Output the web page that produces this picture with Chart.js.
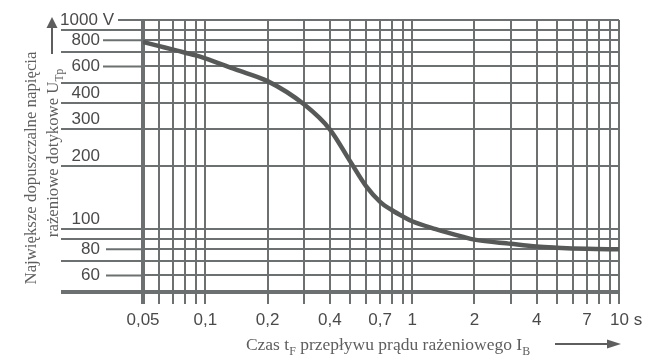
<!DOCTYPE html>
<html><head><meta charset="utf-8">
<script src="https://cdn.jsdelivr.net/npm/chart.js@4"></script>
<style>html,body{margin:0;padding:0;background:#fff}</style>
</head><body>
<canvas id="c" width="665" height="356"></canvas>
<script>
// ---- data ----
const times = [0.05, 0.06, 0.07, 0.08, 0.09, 0.1, 0.14, 0.2, 0.3, 0.4, 0.5, 0.6, 0.7, 0.8, 0.9, 1, 1.3, 1.75, 2, 3, 4, 5, 7, 10];
const voltages = [785, 750, 722, 697, 677, 655, 580, 510, 395, 300, 212, 160, 135, 123, 115, 109, 100, 92, 89, 85, 82.5, 81.5, 80.5, 80];
const xGridValues = [0.05, 0.06, 0.07, 0.08, 0.09, 0.1, 0.2, 0.3, 0.4, 0.5, 0.6, 0.7, 0.8, 0.9, 1, 2, 3, 4, 5, 6, 7, 8, 9, 10];
const xLabelValues = [0.05, 0.1, 0.2, 0.4, 0.7, 1, 2, 4, 7, 10];
const xLabelTexts = ['0,05', '0,1', '0,2', '0,4', '0,7', '1', '2', '4', '7', '10 s'];
const yGridValues = [50, 60, 70, 80, 90, 100, 200, 300, 400, 500, 600, 700, 800, 900, 1000];
const yLabelValues = [1000, 800, 600, 400, 300, 200, 100, 80, 60];
const yLabelTexts = ['1000 V', '800', '600', '400', '300', '200', '100', '80', '60'];
const yLabelsAbove = [400, 300, 200, 100];
const yTitleLine1 = 'Największe dopuszczalne napięcia';
const yTitleLine2 = [['rażeniowe dotykowe U', false], ['Tp', true]];
const xTitle = [['Czas t', false], ['F', true], [' przepływu prądu rażeniowego I', false], ['B', true]];

// ---- styles ----
const GRID = '#6d7070';
const TEXT = '#4a4a4a';
const TITLE = '#5e5e5e';
const SANS = "'Liberation Sans', Arial, sans-serif";
const SERIF = "'Liberation Serif', 'Times New Roman', serif";

function near(a, b) { return Math.abs(a - b) < 1e-9 * Math.max(1, Math.abs(b)); }
function xLabelFor(v) {
  const i = xLabelValues.findIndex(t => near(t, v));
  if (i < 0) return '';
  const s = xLabelTexts[i];
  return s.indexOf(' s') > 0 ? '   ' + s : s;   // keep the number centred on its line
}
function yLabelFor(v) {
  const i = yLabelValues.findIndex(t => near(t, v));
  if (i < 0) return '';
  let s = yLabelTexts[i];
  if (s.indexOf('V') < 0) s = s + '   ';         // align numbers with "1000" of "1000 V"
  return yLabelsAbove.some(t => near(t, v)) ? [s, ''] : s;
}
function yOnLine(v) { return yLabelValues.some(t => near(t, v)) && !yLabelsAbove.some(t => near(t, v)); }

function drawRich(ctx, parts, size, family) {
  const subSize = size * 0.68;
  let w = 0;
  parts.forEach(([t, sub]) => { ctx.font = (sub ? subSize : size) + 'px ' + family; w += ctx.measureText(t).width; });
  let x = -w / 2;
  parts.forEach(([t, sub]) => {
    ctx.font = (sub ? subSize : size) + 'px ' + family;
    ctx.fillText(t, x, sub ? size * 0.28 : 0);
    x += ctx.measureText(t).width;
  });
  return w;
}

// short tick segments between an on-line label and the plot
const labelTicksPlugin = {
  id: 'labelTicks',
  beforeDatasetsDraw(chart) {
    const ctx = chart.ctx, ys = chart.scales.y, left = chart.chartArea.left;
    ctx.save();
    ctx.strokeStyle = GRID;
    ctx.lineWidth = 2;
    yLabelValues.forEach(v => {
      if (!yOnLine(v)) return;
      const y = ys.getPixelForValue(v);
      const x0 = near(v, 1000) ? 118 : (v < 100 ? 106 : 103);
      ctx.beginPath(); ctx.moveTo(x0, y); ctx.lineTo(left, y); ctx.stroke();
    });
    ctx.restore();
  }
};

const titlesPlugin = {
  id: 'titles',
  afterDraw(chart) {
    const ctx = chart.ctx;
    ctx.save();
    ctx.fillStyle = TITLE;
    ctx.strokeStyle = TITLE;
    ctx.textBaseline = 'alphabetic';
    ctx.textAlign = 'left';
    ctx.save();
    ctx.translate(36, 168);
    ctx.rotate(-Math.PI / 2);
    drawRich(ctx, [[yTitleLine1, false]], 16.8, SERIF);
    ctx.restore();
    ctx.save();
    ctx.translate(58, 153);
    ctx.rotate(-Math.PI / 2);
    drawRich(ctx, yTitleLine2, 16.8, SERIF);
    ctx.restore();
    ctx.save();
    ctx.translate(388, 350);
    drawRich(ctx, xTitle, 17.5, SERIF);
    ctx.restore();
    ctx.lineWidth = 2;
    ctx.beginPath(); ctx.moveTo(52, 54); ctx.lineTo(52, 26); ctx.stroke();
    ctx.beginPath(); ctx.moveTo(52, 17); ctx.lineTo(46.5, 28); ctx.lineTo(57.5, 28); ctx.closePath(); ctx.fill();
    ctx.beginPath(); ctx.moveTo(555, 344); ctx.lineTo(610, 344); ctx.stroke();
    ctx.beginPath(); ctx.moveTo(621, 344); ctx.lineTo(607, 339.5); ctx.lineTo(607, 348.5); ctx.closePath(); ctx.fill();
    ctx.restore();
  }
};

new Chart(document.getElementById('c'), {
  type: 'line',
  data: {
    datasets: [{
      data: times.map((t, i) => ({ x: t, y: voltages[i] })),
      borderColor: '#575959',
      borderWidth: 4.5,
      pointRadius: 0,
      cubicInterpolationMode: 'monotone',
      fill: false
    }]
  },
  options: {
    responsive: false,
    animation: false,
    devicePixelRatio: 1,
    layout: { padding: { top: 20, right: 46, left: 0, bottom: 0 } },
    plugins: { legend: { display: false }, tooltip: { enabled: false } },
    scales: {
      x: {
        type: 'logarithmic',
        min: 0.05, max: 10,
        afterBuildTicks(scale) { scale.ticks = xGridValues.map(v => ({ value: v })); },
        afterFit(scale) { scale.height = 64; },
        border: { display: false },
        grid: {
          color: GRID,
          lineWidth: c => (c.tick && near(c.tick.value, 0.05)) ? 4 : 2,
          tickLength: 12,
          drawTicks: true
        },
        ticks: {
          autoSkip: false,
          maxRotation: 0,
          minRotation: 0,
          padding: 6,
          color: TEXT,
          font: { family: SANS, size: 17 },
          callback: v => xLabelFor(v)
        }
      },
      y: {
        type: 'logarithmic',
        min: 50, max: 1000,
        afterBuildTicks(scale) { scale.ticks = yGridValues.map(v => ({ value: v })); },
        afterFit(scale) { scale.width = 143; },
        border: { display: false },
        grid: {
          color: GRID,
          lineWidth: c => (c.tick && near(c.tick.value, 50)) ? 4 : 2,
          tickColor: c => (c.tick && yOnLine(c.tick.value)) ? 'rgba(0,0,0,0)' : GRID,
          tickLength: 82,
          drawTicks: true
        },
        ticks: {
          autoSkip: false,
          padding: -53,
          color: TEXT,
          font: { family: SANS, size: 17 },
          callback: v => yLabelFor(v)
        }
      }
    }
  },
  plugins: [labelTicksPlugin, titlesPlugin]
});
</script>
</body></html>
